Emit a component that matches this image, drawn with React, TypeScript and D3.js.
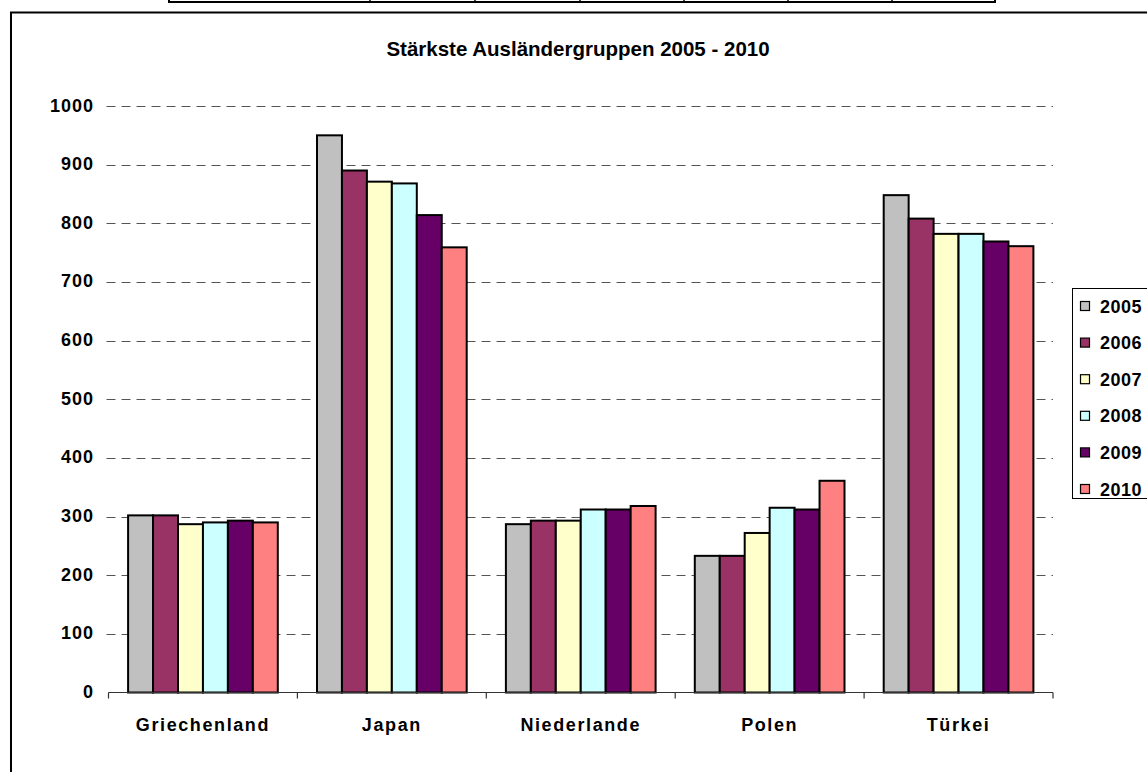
import { useEffect, useRef } from "react"
import * as d3 from "d3"

const categories = ["Griechenland", "Japan", "Niederlande", "Polen", "Türkei"]
const years = ["2005", "2006", "2007", "2008", "2009", "2010"]
const colors = ["#C0C0C0", "#993366", "#FFFFCC", "#CCFFFF", "#660066", "#FF8080"]

// one array per year, values in category order
const v2005 = [302, 950, 287, 233, 848]
const v2006 = [302, 890, 293, 233, 808]
const v2007 = [287, 871, 293, 272, 782]
const v2008 = [290, 868, 312, 315, 782]
const v2009 = [293, 814, 312, 312, 769]
const v2010 = [290, 759, 318, 361, 761]
const seriesValues = [v2005, v2006, v2007, v2008, v2009, v2010]

const yTicks = [0, 100, 200, 300, 400, 500, 600, 700, 800, 900, 1000]
const title = "Stärkste Ausländergruppen 2005 - 2010"

export default function App() {
  const svgRef = useRef<SVGSVGElement>(null)

  useEffect(() => {
    if (!svgRef.current) return
    const root = d3.select(svgRef.current)
    root.selectAll("*").remove()

    const font = "'Liberation Sans', Arial, sans-serif"
    const left = 108.5
    const right = 1053
    const top = 106
    const bottom = 692.5

    // bits of the table above the chart
    const tableX = [169, 370, 475, 580, 684, 788, 892, 995]
    root
      .append("rect")
      .attr("x", 169)
      .attr("y", -10)
      .attr("width", 826)
      .attr("height", 12)
      .attr("fill", "white")
      .attr("stroke", "black")
      .attr("stroke-width", 2)
    tableX.slice(1, -1).forEach((x) => {
      root.append("line").attr("x1", x).attr("x2", x).attr("y1", 0).attr("y2", 2).attr("stroke", "black").attr("stroke-width", 1.5)
    })

    // chart border
    root
      .append("rect")
      .attr("x", 11)
      .attr("y", 12.5)
      .attr("width", 1200)
      .attr("height", 800)
      .attr("fill", "white")
      .attr("stroke", "black")
      .attr("stroke-width", 2)

    // title
    root
      .append("text")
      .attr("x", 578)
      .attr("y", 56)
      .attr("text-anchor", "middle")
      .style("font-family", font)
      .style("font-weight", "bold")
      .style("font-size", "20.5px")
      .text(title)

    const x0 = d3.scaleBand().domain(categories).range([left, right]).paddingInner(0).paddingOuter(0)
    const groupPad = 19.6
    const x1 = d3
      .scaleBand()
      .domain(years)
      .range([groupPad, x0.bandwidth() - groupPad])
    const y = d3.scaleLinear().domain([0, 1000]).range([bottom, top])

    const g = root.append("g")

    // gridlines
    g.selectAll(".grid")
      .data(yTicks.filter((t) => t > 0))
      .enter()
      .append("line")
      .attr("x1", left - 2)
      .attr("x2", right)
      .attr("y1", (d) => Math.round(y(d)) + 0.5)
      .attr("y2", (d) => Math.round(y(d)) + 0.5)
      .attr("stroke", "#555")
      .attr("stroke-width", 1)
      .attr("stroke-dasharray", "9,6")

    // y labels
    g.selectAll(".ylab")
      .data(yTicks)
      .enter()
      .append("text")
      .attr("x", 94)
      .attr("y", (d) => y(d) + 5.5)
      .attr("text-anchor", "end")
      .style("font-family", font)
      .style("font-weight", "bold")
      .style("font-size", "18px")
      .style("letter-spacing", "1px")
      .text((d) => d)

    // bars
    years.forEach((yr, si) => {
      g.selectAll(`.bar-${yr}`)
        .data(categories)
        .enter()
        .append("rect")
        .attr("x", (c) => (x0(c) || 0) + (x1(yr) || 0))
        .attr("y", (c, i) => y(seriesValues[si][i]))
        .attr("width", x1.bandwidth())
        .attr("height", (c, i) => bottom - y(seriesValues[si][i]))
        .attr("fill", colors[si])
        .attr("stroke", "black")
        .attr("stroke-width", 2)
    })

    // x axis
    g.append("line")
      .attr("x1", left)
      .attr("x2", right)
      .attr("y1", bottom)
      .attr("y2", bottom)
      .attr("stroke", "#333")
      .attr("stroke-width", 1.2)
    const boundaries = categories.map((c) => x0(c) || 0).concat([right])
    g.selectAll(".xtick")
      .data(boundaries)
      .enter()
      .append("line")
      .attr("x1", (d) => d)
      .attr("x2", (d) => d)
      .attr("y1", bottom)
      .attr("y2", bottom + 6)
      .attr("stroke", "#333")
      .attr("stroke-width", 1.2)

    g.selectAll(".xlab")
      .data(categories)
      .enter()
      .append("text")
      .attr("x", (c) => (x0(c) || 0) + x0.bandwidth() / 2)
      .attr("y", 731)
      .attr("text-anchor", "middle")
      .style("font-family", font)
      .style("font-weight", "bold")
      .style("font-size", "18px")
      .style("letter-spacing", "1.6px")
      .text((d) => d)

    // legend
    const legend = root.append("g")
    legend
      .append("rect")
      .attr("x", 1072.5)
      .attr("y", 288.5)
      .attr("width", 100)
      .attr("height", 210)
      .attr("fill", "white")
      .attr("stroke", "black")
      .attr("stroke-width", 1)
    years.forEach((yr, i) => {
      const cy = 306 + i * 36.6
      legend
        .append("rect")
        .attr("x", 1080.5)
        .attr("y", cy - 4.5)
        .attr("width", 9)
        .attr("height", 9)
        .attr("fill", colors[i])
        .attr("stroke", "black")
        .attr("stroke-width", 1.2)
      legend
        .append("text")
        .attr("x", 1100)
        .attr("y", cy + 6.5)
        .style("font-family", font)
        .style("font-weight", "bold")
        .style("font-size", "18px")
        .style("letter-spacing", "0.5px")
        .text(yr)
    })
  }, [])

  return (
    <div style={{ position: "absolute", left: 0, top: 0, width: 1147, height: 772, overflow: "hidden", background: "white" }}>
      <svg ref={svgRef} width={1147} height={772} style={{ display: "block" }}></svg>
    </div>
  )
}
